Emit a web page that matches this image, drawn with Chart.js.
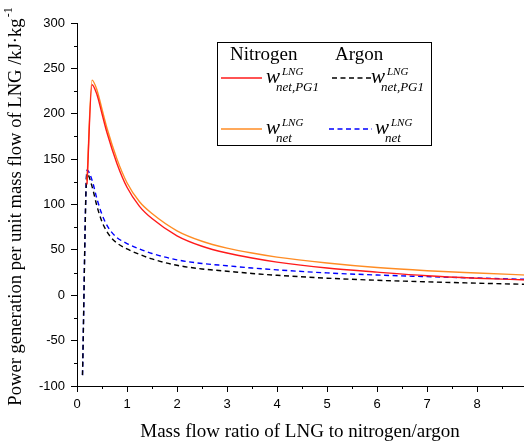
<!DOCTYPE html>
<html>
<head>
<meta charset="utf-8">
<script src="https://cdn.jsdelivr.net/npm/chart.js@4/dist/chart.umd.min.js"></script>
<style>
html, body { margin: 0; padding: 0; background: #fff; overflow: hidden; }
#wrap { width: 560px; height: 445px; }
</style>
</head>
<body>
<div id="wrap"><canvas id="myChart" width="560" height="445"></canvas></div>
<script>
// mass flow ratio (x) for each family of curves
const ratioN = [0.2, 0.3, 0.4, 0.5, 0.6, 0.8, 1, 1.25, 1.5, 2, 2.5, 3, 3.5, 4, 5, 6, 7, 8, 9];
const ratioAr = [0.11, 0.2, 0.3, 0.4, 0.5, 0.6, 0.7, 0.8, 1, 1.25, 1.5, 2, 2.5, 3, 3.5, 4, 5, 6, 7, 8, 9];

// kJ/kg
const nitrogenPG1 = [122, 232, 221, 200, 179, 145, 119, 98, 84.5, 65.5, 54, 46.5, 41, 36.5, 30, 25.5, 21.5, 18.8, 16.8];
const nitrogenNet = [126, 237, 226, 205, 184, 150, 124, 103, 90, 71, 59.5, 52, 46.5, 42, 35.5, 30.5, 27, 24.5, 22.2];
const argonPG1 = [-88, 134, 120, 98, 81, 70, 62.5, 57.5, 51, 45, 40, 33, 29, 26.5, 24, 22, 18.8, 16.5, 14.8, 13.3, 12];
const argonNet = [-88, 138, 127, 106, 89, 77, 69, 63.5, 57, 51, 46, 39, 35, 32.5, 30, 28, 24.6, 22.3, 20.5, 19, 17.5];

const xTicks = [0, 1, 2, 3, 4, 5, 6, 7, 8, 9];
const yTicks = [-100, -50, 0, 50, 100, 150, 200, 250, 300];

function pts(xs, ys) {
    return xs.map((x, i) => ({ x: x, y: ys[i] }));
}

const serif = '"Liberation Serif", "Times New Roman", serif';
const sans = '"Liberation Sans", Arial, sans-serif';

// w^LNG_sub label
function drawW(ctx, x, base, sub) {
    ctx.fillStyle = '#000';
    ctx.textAlign = 'left';
    ctx.textBaseline = 'alphabetic';
    ctx.font = 'italic 21px ' + serif;
    ctx.fillText('w', x, base);
    ctx.font = 'italic 11px ' + serif;
    ctx.fillText('LNG', x + 16, base - 8);
    ctx.font = 'italic 13px ' + serif;
    ctx.fillText(sub, x + 10, base + 8);
}

function legendLine(ctx, ds, x1, x2, y) {
    ctx.save();
    ctx.strokeStyle = ds.borderColor;
    ctx.lineWidth = ds.borderWidth;
    ctx.setLineDash(ds.borderDash || []);
    ctx.beginPath();
    ctx.moveTo(x1, y);
    ctx.lineTo(x2, y);
    ctx.stroke();
    ctx.restore();
}

const extras = {
    id: 'extras',
    afterDraw(chart) {
        const ctx = chart.ctx;
        const xs = chart.scales.x, ys = chart.scales.y;
        ctx.save();

        // minor ticks
        ctx.strokeStyle = '#000';
        ctx.lineWidth = 1;
        ctx.beginPath();
        for (let v = 0.5; v < 9; v += 1) {
            const px = Math.round(xs.getPixelForValue(v)) + 0.5;
            ctx.moveTo(px, xs.top);
            ctx.lineTo(px, xs.top + 3);
        }
        for (let v = -75; v < 300; v += 50) {
            const py = Math.round(ys.getPixelForValue(v)) + 0.5;
            ctx.moveTo(ys.right, py);
            ctx.lineTo(ys.right - 3, py);
        }
        ctx.stroke();

        // x title
        ctx.fillStyle = '#000';
        ctx.font = '19px ' + serif;
        ctx.textAlign = 'center';
        ctx.textBaseline = 'alphabetic';
        ctx.fillText('Mass flow ratio of LNG to nitrogen/argon', 300, 437);

        // y title, rotated, with superscript
        const main = 'Power generation per unit mass flow of LNG /kJ\u00b7kg';
        ctx.font = '18.6px ' + serif;
        const wMain = ctx.measureText(main).width;
        ctx.font = '12px ' + serif;
        const wSup = ctx.measureText('-1').width;
        ctx.save();
        ctx.translate(21, 207);
        ctx.rotate(-Math.PI / 2);
        ctx.textAlign = 'left';
        const start = -(wMain + wSup) / 2;
        ctx.font = '18.6px ' + serif;
        ctx.fillText(main, start, 0);
        ctx.font = '12px ' + serif;
        ctx.fillText('-1', start + wMain + 1, -9);
        ctx.restore();

        // legend box
        const d = chart.data.datasets;
        ctx.strokeStyle = '#000';
        ctx.lineWidth = 1;
        ctx.strokeRect(217.5, 42.5, 214, 103);
        ctx.font = '19px ' + serif;
        ctx.textAlign = 'left';
        ctx.fillText('Nitrogen', 230, 60);
        ctx.fillText('Argon', 335, 60);

        legendLine(ctx, d[0], 221, 262, 78);
        drawW(ctx, 266, 83, 'net,PG1');
        legendLine(ctx, d[2], 332, 372, 78);
        drawW(ctx, 371, 83, 'net,PG1');
        legendLine(ctx, d[1], 221, 262, 129);
        drawW(ctx, 266, 134, 'net');
        legendLine(ctx, d[3], 329, 372, 129);
        drawW(ctx, 375, 134, 'net');

        ctx.restore();
    }
};

const config = {
    type: 'line',
    data: {
        datasets: [{
            label: 'Nitrogen w net,PG1',
            data: pts(ratioN, nitrogenPG1),
            borderColor: '#ff1a1a',
            borderWidth: 1.4
        }, {
            label: 'Nitrogen w net',
            data: pts(ratioN, nitrogenNet),
            borderColor: '#ff8c24',
            borderWidth: 1.4
        }, {
            label: 'Argon w net,PG1',
            data: pts(ratioAr, argonPG1),
            borderColor: '#000000',
            borderWidth: 1.4,
            borderDash: [5, 3.5]
        }, {
            label: 'Argon w net',
            data: pts(ratioAr, argonNet),
            borderColor: '#0000ff',
            borderWidth: 1.4,
            borderDash: [5, 3.5]
        }]
    },
    options: {
        responsive: false,
        animation: false,
        devicePixelRatio: 1,
        layout: { padding: { top: 23, right: 33, left: 0, bottom: 0 } },
        elements: {
            point: { radius: 0 },
            line: { cubicInterpolationMode: 'monotone', fill: false }
        },
        plugins: {
            legend: { display: false },
            tooltip: { enabled: false }
        },
        scales: {
            x: {
                type: 'linear',
                min: 0,
                max: 9,
                afterFit(scale) { scale.height = 59; },
                afterBuildTicks(scale) { scale.ticks = xTicks.map(v => ({ value: v })); },
                grid: { display: true, drawOnChartArea: false, drawTicks: true, tickLength: 6, color: '#000' },
                border: { display: true, color: '#000', width: 1 },
                ticks: {
                    autoSkip: false,
                    maxRotation: 0,
                    padding: 5,
                    color: '#000',
                    font: { family: sans, size: 13 }
                }
            },
            y: {
                type: 'linear',
                min: -100,
                max: 300,
                afterFit(scale) { scale.width = 77; },
                afterBuildTicks(scale) { scale.ticks = yTicks.map(v => ({ value: v })); },
                grid: { display: true, drawOnChartArea: false, drawTicks: true, tickLength: 6, color: '#000' },
                border: { display: true, color: '#000', width: 1 },
                ticks: {
                    padding: 6,
                    color: '#000',
                    font: { family: sans, size: 13 }
                }
            }
        }
    },
    plugins: [extras]
};

new Chart(document.getElementById('myChart'), config);
</script>
</body>
</html>
